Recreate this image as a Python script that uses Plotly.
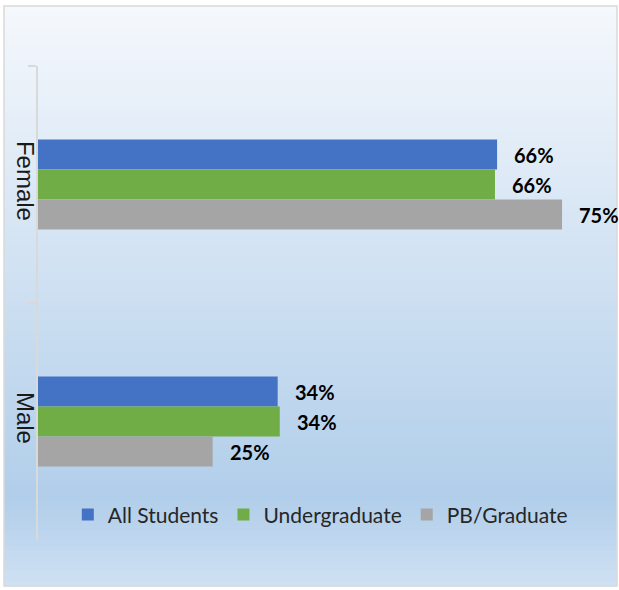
import plotly.graph_objects as go

categories = ["Female", "Male"]
series_names = ["All Students", "Undergraduate", "PB/Graduate"]
all_students = [65.7, 34.3]
undergraduate = [65.4, 34.6]
pb_graduate = [75.0, 25.0]
label_all = ["66%", "34%"]
label_ug = ["66%", "34%"]
label_pb = ["75%", "25%"]

colors = ["#4472C4", "#70AD47", "#A5A5A5"]
values = [all_students, undergraduate, pb_graduate]
labels = [label_all, label_ug, label_pb]

W, H = 619, 590
L, R, T, B = 38, 22, 66, 50
pw, ph = W - L - R, H - T - B

def px(x):
    return (x - L) / pw

def py(y):
    return (H - B - y) / ph

fig = go.Figure()
for name, vals, col in zip(series_names, values, colors):
    fig.add_trace(go.Bar(
        y=categories, x=vals, name=name, orientation="h",
        marker=dict(color=col, line=dict(width=0)),
        hoverinfo="skip",
    ))

annotations = []
shifts = [30, 0, -30]
for vals, labs, s in zip(values, labels, shifts):
    for c, v, t in zip(categories, vals, labs):
        annotations.append(dict(
            x=v, y=c, xref="x", yref="y", text=t, showarrow=False,
            xanchor="left", yanchor="middle", xshift=15, yshift=s,
            font=dict(family="Lato, Carlito, sans-serif", size=20, color="#000000",
                      weight="bold"),
        ))

# gradient background strips
shapes = []
stops = [(0.0, (245, 248, 252)), (0.85, (177, 206, 234)), (1.0, (207, 225, 243))]

def col_at(t):
    for (t0, c0), (t1, c1) in zip(stops[:-1], stops[1:]):
        if t0 <= t <= t1:
            f = (t - t0) / (t1 - t0) if t1 > t0 else 0
            return tuple(int(round(a + (b - a) * f)) for a, b in zip(c0, c1))
    return stops[-1][1]

top, bot = 6, 586
n = 116
for i in range(n):
    y0 = top + (bot - top) * i / n
    y1 = top + (bot - top) * (i + 1) / n + 0.6
    c = col_at((i + 0.5) / n)
    shapes.append(dict(
        type="rect", xref="paper", yref="paper", layer="below",
        x0=px(4), x1=px(617), y0=py(y1), y1=py(y0),
        fillcolor="rgb(%d,%d,%d)" % c, line=dict(width=0),
    ))
shapes.append(dict(
    type="rect", xref="paper", yref="paper", layer="below",
    x0=px(4), x1=px(617), y0=py(bot), y1=py(top),
    fillcolor="rgba(0,0,0,0)", line=dict(color="#D9D9D9", width=1.5),
))

fig.update_layout(
    width=W, height=H,
    margin=dict(l=L, r=R, t=T, b=B, pad=0, autoexpand=False),
    paper_bgcolor="white", plot_bgcolor="rgba(0,0,0,0)",
    barmode="group", bargap=0.62, bargroupgap=0,
    showlegend=True,
    legend=dict(
        orientation="h", x=0.505, y=0.053, xanchor="center", yanchor="middle",
        font=dict(family="Lato, Carlito, sans-serif", size=21, color="#262626"),
        bgcolor="rgba(0,0,0,0)", itemwidth=30, traceorder="normal",
    ),
    xaxis=dict(range=[0, 80], visible=False, fixedrange=True, automargin=False),
    yaxis=dict(
        autorange="reversed", type="category", automargin=False,
        showline=True, linecolor="#D9D9D9", linewidth=1.5,
        ticks="outside", ticklen=8, tickcolor="#D9D9D9", tickwidth=1.5,
        tickson="boundaries", tickangle=90, showgrid=False, zeroline=False,
        ticklabelstandoff=-10,
        tickfont=dict(family="Liberation Sans, Arial, sans-serif",
                      size=24, color="#1a1a1a"),
    ),
    annotations=annotations,
    shapes=shapes,
)

fig.write_html(
    "out.html",
    config={"displayModeBar": False},
    post_script="document.body.style.margin='0';document.body.style.padding='0';",
)
